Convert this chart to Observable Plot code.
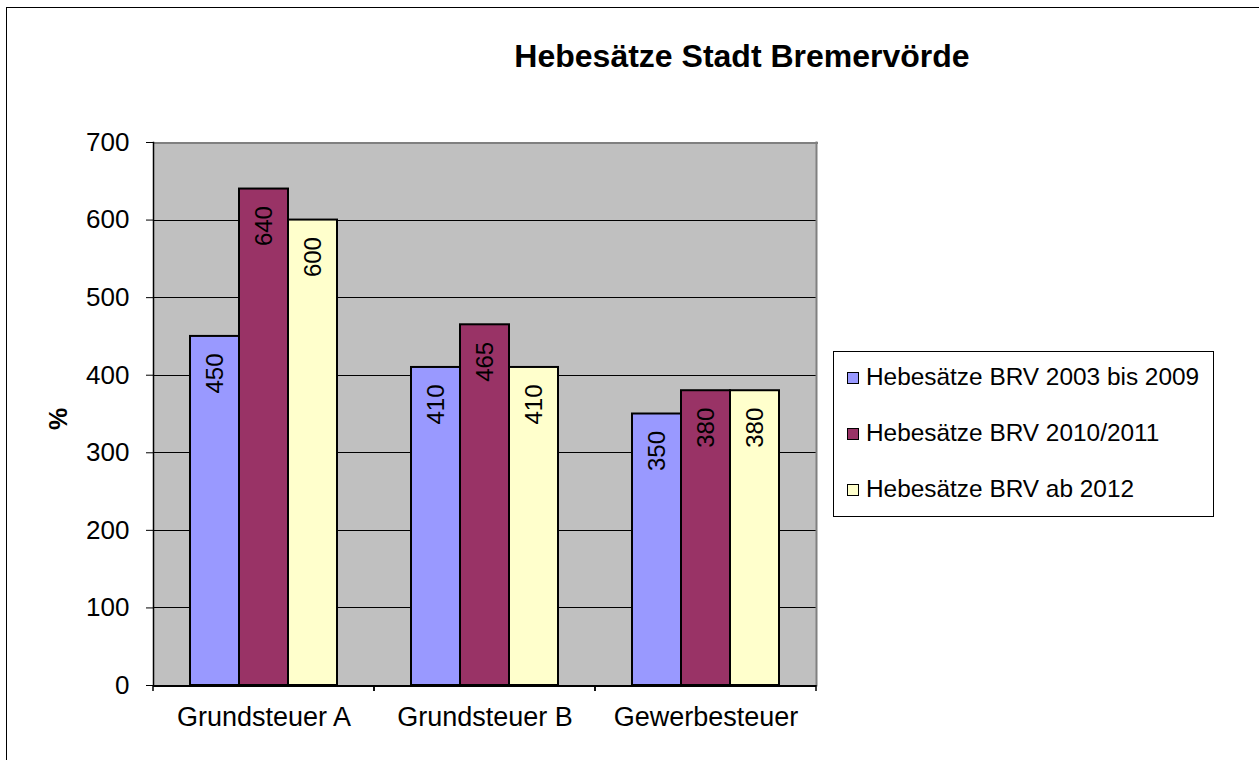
<!DOCTYPE html>
<html>
<head>
<meta charset="utf-8">
<script src="https://cdn.jsdelivr.net/npm/d3@7"></script>
<script src="https://cdn.jsdelivr.net/npm/@observablehq/plot@0.6"></script>
<style>
  html, body { margin: 0; padding: 0; background: #fff; overflow: hidden; }
  #wrap { position: relative; width: 1259px; height: 760px; font-family: "Liberation Sans", Arial, sans-serif; color: #000; }
  #outer { position: absolute; left: 6px; top: 7px; width: 1400px; height: 900px; border-top: 1px solid #000; border-left: 1px solid #000; }
  #chart { position: absolute; left: 0; top: 0; }
  #title { position: absolute; left: 242px; top: 40px; width: 1000px; text-align: center; font-weight: bold; font-size: 32px; line-height: 32px; }
  #ylabel { position: absolute; left: 58px; top: 419px; transform: translate(-50%, -50%) rotate(-90deg); font-weight: bold; font-size: 25px; line-height: 25px; }
  #legend { position: absolute; left: 833px; top: 351px; width: 381px; height: 166px; box-sizing: border-box; border: 1px solid #000; background: #fff; }
  .sw { position: absolute; width: 12px; height: 12px; box-sizing: border-box; border: 1.5px solid #000; }
  .lt { position: absolute; font-size: 24.4px; line-height: 24px; white-space: nowrap; }
</style>
</head>
<body>
<div id="wrap">
  <div id="outer"></div>
  <div id="chart"></div>
  <div id="title">Hebesätze Stadt Bremervörde</div>
  <div id="ylabel">%</div>
  <div id="legend"></div>
</div>
<script>
const categories = ["Grundsteuer A", "Grundsteuer B", "Gewerbesteuer"];
const series = ["Hebesätze BRV 2003 bis 2009", "Hebesätze BRV 2010/2011", "Hebesätze BRV ab 2012"];
const values2003to2009 = [450, 410, 350];
const values2010to2011 = [640, 465, 380];
const valuesFrom2012 = [600, 410, 380];
const seriesColors = ["#9999FF", "#993366", "#FFFFCC"];
const yTicks = [0, 100, 200, 300, 400, 500, 600, 700];

const seriesValues = [values2003to2009, values2010to2011, valuesFrom2012];
const data = categories.flatMap((c, i) =>
  series.map((s, j) => ({category: c, series: s, value: seriesValues[j][i]}))
);

const boundaryTicks = (index, scales, values, dims) => {
  const g = d3.create("svg:g").attr("stroke", "#000").attr("stroke-width", 1.5);
  const yb = dims.height - dims.marginBottom;
  for (const x of [dims.marginLeft, dims.width - dims.marginRight]) {
    g.append("line").attr("x1", x).attr("x2", x).attr("y1", yb).attr("y2", yb + 6);
  }
  return g.node();
};

const chart = Plot.plot({
  width: 1259,
  height: 760,
  marginLeft: 152,
  marginRight: 442,
  marginTop: 142,
  marginBottom: 75,
  style: {fontFamily: '"Liberation Sans", Arial, sans-serif', fontSize: "26px", color: "#000", background: "transparent", overflow: "visible"},
  fx: {domain: categories, padding: 0, label: null, axis: null},
  x: {domain: series, paddingInner: 0, paddingOuter: 0.744, axis: null},
  y: {domain: [0, 700], axis: null},
  color: {domain: series, range: seriesColors},
  marks: [
    Plot.frame({fill: "#c0c0c0", shapeRendering: "crispEdges"}),
    Plot.gridY(yTicks.slice(1, -1), {stroke: "#000", strokeOpacity: 1, strokeWidth: 1, shapeRendering: "crispEdges"}),
    Plot.frame({anchor: "top", stroke: "#808080", strokeWidth: 2, shapeRendering: "crispEdges"}),
    Plot.frame({anchor: "right", stroke: "#808080", strokeWidth: 2, facetAnchor: "right"}),
    Plot.barY(data, {fx: "category", x: "series", y: "value", fill: "series", stroke: "#000", strokeWidth: 2}),
    Plot.ruleY([0], {stroke: "#000", strokeWidth: 2, shapeRendering: "crispEdges"}),
    Plot.frame({anchor: "left", stroke: "#000", strokeWidth: 1.5, facetAnchor: "left"}),
    Plot.axisY({ticks: yTicks, tickSize: 7, tickPadding: 17, fontSize: 26, label: null}),
    Plot.axisFx({anchor: "bottom", tickSize: 0, tickPadding: 21, fontSize: 27, label: null}),
    boundaryTicks,
    Plot.text(data, {fx: "category", x: "series", y: "value", text: d => String(d.value), rotate: -90, textAnchor: "end", dy: 17, fontSize: 24, fill: "#000"})
  ]
});
document.getElementById("chart").appendChild(chart);

const wrap = document.getElementById("wrap");
series.forEach((s, i) => {
  const sw = document.createElement("div");
  sw.className = "sw";
  sw.style.left = "847px";
  sw.style.top = (372 + 56 * i) + "px";
  sw.style.background = seriesColors[i];
  wrap.appendChild(sw);
  const t = document.createElement("div");
  t.className = "lt";
  t.style.left = "866px";
  t.style.top = (365 + 56 * i) + "px";
  t.textContent = s;
  wrap.appendChild(t);
});
</script>
</body>
</html>
